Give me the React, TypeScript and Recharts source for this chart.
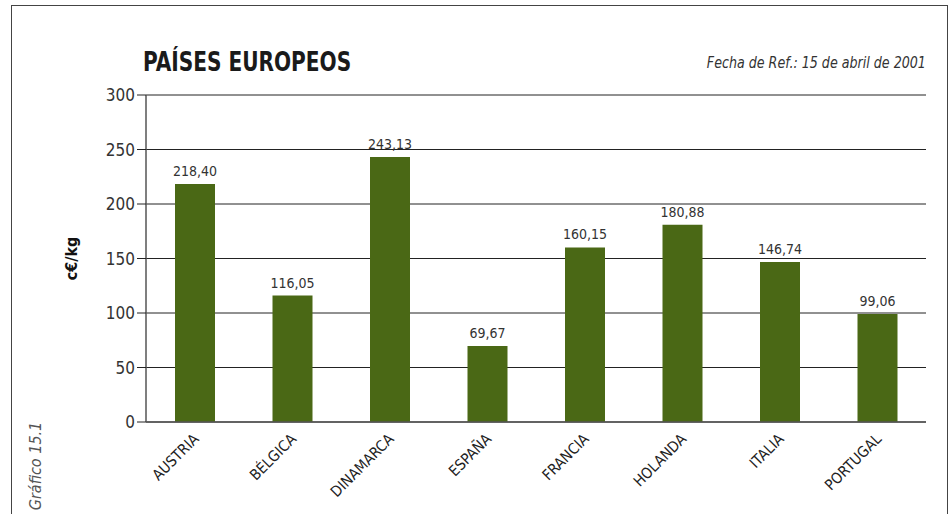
import React from 'react';
import { BarChart, Bar, XAxis, YAxis, CartesianGrid, LabelList } from 'recharts';

const paises = ['AUSTRIA', 'BÉLGICA', 'DINAMARCA', 'ESPAÑA', 'FRANCIA', 'HOLANDA', 'ITALIA', 'PORTUGAL'];
const precios = [218.4, 116.05, 243.13, 69.67, 160.15, 180.88, 146.74, 99.06];
const yTicks = [0, 50, 100, 150, 200, 250, 300];

const data = paises.map((pais, i) => ({ pais, precio: precios[i] }));

const FONT = '"DejaVu Sans Condensed", "Liberation Sans Narrow", Arial, sans-serif';
const VERDE = '#4a6815';

const fmt = (v: number) => v.toFixed(2).replace('.', ',');

function PaisTick({ x, y, payload }: any) {
  return (
    <text
      x={x + 5}
      y={y + 10}
      transform={`rotate(-45, ${x + 5}, ${y + 10})`}
      textAnchor="end"
      fontSize={15}
      fontFamily={FONT}
      fill="#222"
    >
      {payload.value}
    </text>
  );
}

export default function App() {
  return (
    <div style={{ position: 'absolute', left: 0, top: 0, width: 952, height: 514, background: '#fff', overflow: 'hidden' }}>
      <div
        style={{
          position: 'absolute',
          left: 11,
          top: 5,
          width: 935,
          height: 540,
          border: '1.5px solid #444',
        }}
      />
      <div
        style={{
          position: 'absolute',
          left: 143,
          top: 47,
          fontFamily: FONT,
          fontWeight: 'bold',
          fontSize: 26,
          color: '#1a1a1a',
          transform: 'scaleX(0.86)',
          transformOrigin: 'left center',
          whiteSpace: 'nowrap',
        }}
      >
        PAÍSES EUROPEOS
      </div>
      <div
        style={{
          position: 'absolute',
          right: 26,
          top: 53,
          fontFamily: FONT,
          fontStyle: 'italic',
          fontSize: 16,
          color: '#333',
          transform: 'scaleX(0.88)',
          transformOrigin: 'right center',
          whiteSpace: 'nowrap',
        }}
      >
        Fecha de Ref.: 15 de abril de 2001
      </div>
      <div
        style={{
          position: 'absolute',
          left: 35,
          top: 466,
          transform: 'translate(0, -50%) rotate(-90deg)',
          transformOrigin: 'center',
          fontFamily: FONT,
          fontStyle: 'italic',
          fontSize: 16,
          color: '#555',
          whiteSpace: 'nowrap',
          width: 0,
          display: 'flex',
          justifyContent: 'center',
        }}
      >
        <span>Gráfico 15.1</span>
      </div>
      <div style={{ position: 'absolute', left: 0, top: 0 }}>
        <BarChart
          width={952}
          height={514}
          data={data}
          margin={{ top: 95, right: 26, bottom: 0, left: 86 }}
          barSize={40}
        >
          <CartesianGrid horizontal vertical={false} stroke="#222" strokeWidth={1} />
          <XAxis
            dataKey="pais"
            height={92}
            interval={0}
            tickLine={false}
            axisLine={{ stroke: '#555', strokeWidth: 1.5 }}
            tick={<PaisTick />}
          />
          <YAxis
            domain={[0, 300]}
            ticks={yTicks}
            width={60}
            tickSize={9}
            tickLine={{ stroke: '#222' }}
            axisLine={{ stroke: '#555', strokeWidth: 1.5 }}
            tick={{ fontSize: 17, fontFamily: FONT, fill: '#333' }}
            label={{
              value: 'c€/kg',
              angle: -90,
              position: 'insideLeft',
              dx: -20,
              style: { fontFamily: FONT, fontWeight: 'bold', fontSize: 16, fill: '#111', textAnchor: 'middle' },
            }}
          />
          <YAxis
            yAxisId="borde"
            orientation="right"
            width={0}
            tick={false}
            tickLine={false}
            axisLine={{ stroke: '#555', strokeWidth: 1.5 }}
          />
          <Bar dataKey="precio" fill={VERDE} isAnimationActive={false}>
            <LabelList
              dataKey="precio"
              position="top"
              offset={8}
              formatter={(v: any) => fmt(Number(v))}
              style={{ fontSize: 14, fontFamily: FONT, fill: '#333' }}
            />
          </Bar>
        </BarChart>
      </div>
    </div>
  );
}
